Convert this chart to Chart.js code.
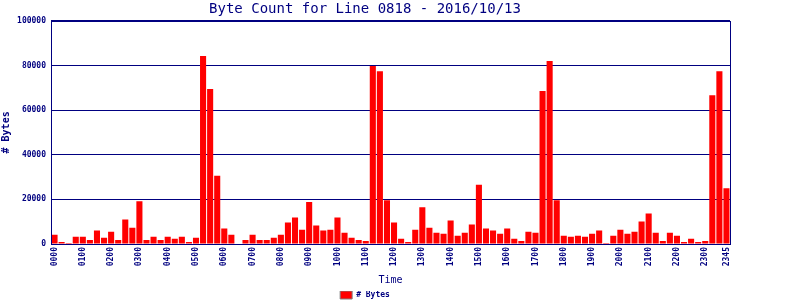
<!DOCTYPE html>
<html>
<head>
<meta charset="utf-8">
<script src="https://cdn.jsdelivr.net/npm/chart.js@4"></script>
<style>
  html, body { margin: 0; padding: 0; background: #fff; }
  #wrap { width: 800px; height: 300px; }
</style>
</head>
<body>
<div id="wrap"><canvas id="chart" width="800" height="300"></canvas></div>
<script>
const times = [];
for (let h = 0; h < 24; h++) {
  for (let m = 0; m < 60; m += 15) {
    times.push(String(h).padStart(2, '0') + String(m).padStart(2, '0'));
  }
}

const bytes = [
  4100, 900, 500, 3200, 3200, 1800, 6000, 2750,
  5500, 1800, 11000, 7300, 19200, 1800, 3200, 1800,
  3200, 2300, 3200, 900, 2750, 84200, 69400, 30600,
  6900, 4100, 0, 1800, 4100, 1800, 1800, 2750,
  4100, 9600, 11900, 6400, 18800, 8250, 6000, 6400,
  11900, 5000, 2750, 1800, 1400, 79700, 77400, 19600,
  9600, 2300, 900, 6400, 16500, 7300, 5000, 4600,
  10500, 3650, 5000, 8700, 26500, 6900, 6000, 4600,
  6900, 2300, 1400, 5500, 5000, 68500, 82000, 19600,
  3650, 3200, 3650, 3200, 4600, 6000, 500, 3650,
  6400, 4600, 5500, 10100, 13700, 5000, 1400, 5000,
  3650, 900, 2300, 900, 1400, 66600, 77400, 25000
];

const yTicks = [0, 20000, 40000, 60000, 80000, 100000];

const navy = '#000080';
const mono = 'DejaVu Sans Mono';

// outline round the plot area (top and right edges)
const frame = {
  id: 'frame',
  afterDatasetsDraw(chart) {
    const a = chart.chartArea;
    const c = chart.ctx;
    c.save();
    c.strokeStyle = navy;
    c.lineWidth = 1;
    c.strokeRect(Math.round(a.left) + 0.5, Math.round(a.top) + 0.5,
      Math.round(a.right - a.left), Math.round(a.bottom - a.top));
    c.restore();
  }
};

new Chart(document.getElementById('chart'), {
  type: 'bar',
  data: {
    labels: times,
    datasets: [{
      label: '# Bytes',
      data: bytes,
      backgroundColor: '#ff0000',
      borderWidth: 0,
      categoryPercentage: 1,
      barPercentage: 0.86
    }]
  },
  plugins: [frame],
  options: {
    responsive: false,
    animation: false,
    layout: { padding: { left: 0, right: 70, top: 0, bottom: -9 } },
    plugins: {
      title: {
        display: true,
        text: 'Byte Count for Line 0818 - 2016/10/13',
        color: navy,
        font: { family: mono, size: 14, weight: 'normal' },
        padding: { top: 1, bottom: 3 }
      },
      legend: {
        position: 'bottom',
        labels: {
          color: navy,
          font: { family: mono, size: 8, weight: 'bold' },
          boxWidth: 12,
          boxHeight: 8,
          padding: 0,
          generateLabels(chart) {
            return [{
              text: '# Bytes',
              fillStyle: '#ff0000',
              strokeStyle: '#808080',
              lineWidth: 1,
              fontColor: navy,
              datasetIndex: 0
            }];
          }
        }
      },
      tooltip: { enabled: false }
    },
    scales: {
      x: {
        offset: true,
        grid: { display: false, drawTicks: false },
        border: { color: navy, width: 1 },
        ticks: {
          autoSkip: false,
          maxRotation: 90,
          minRotation: 90,
          padding: 3,
          color: navy,
          font: { family: mono, size: 8, weight: 'bold' },
          callback(v, i) {
            return (i % 4 === 0 || i === times.length - 1) ? times[i] : '';
          }
        },
        title: {
          display: true,
          text: 'Time',
          color: navy,
          font: { family: mono, size: 10 },
          padding: { top: 4, bottom: 5 }
        },
        afterFit(scale) { scale.height = 47; }
      },
      y: {
        min: 0,
        max: 100000,
        afterBuildTicks(scale) {
          scale.ticks = yTicks.map(v => ({ value: v }));
        },
        grid: { color: navy, lineWidth: 1, drawTicks: false },
        border: { color: navy, width: 1 },
        ticks: {
          padding: 5,
          color: navy,
          font: { family: mono, size: 8, weight: 'bold' },
          callback: v => String(v)
        },
        title: {
          display: true,
          text: '# Bytes',
          color: navy,
          font: { family: mono, size: 10, weight: 'bold' },
          padding: { top: 0, bottom: 0 }
        },
        afterFit(scale) { scale.width = 51; }
      }
    }
  }
});
</script>
</body>
</html>
